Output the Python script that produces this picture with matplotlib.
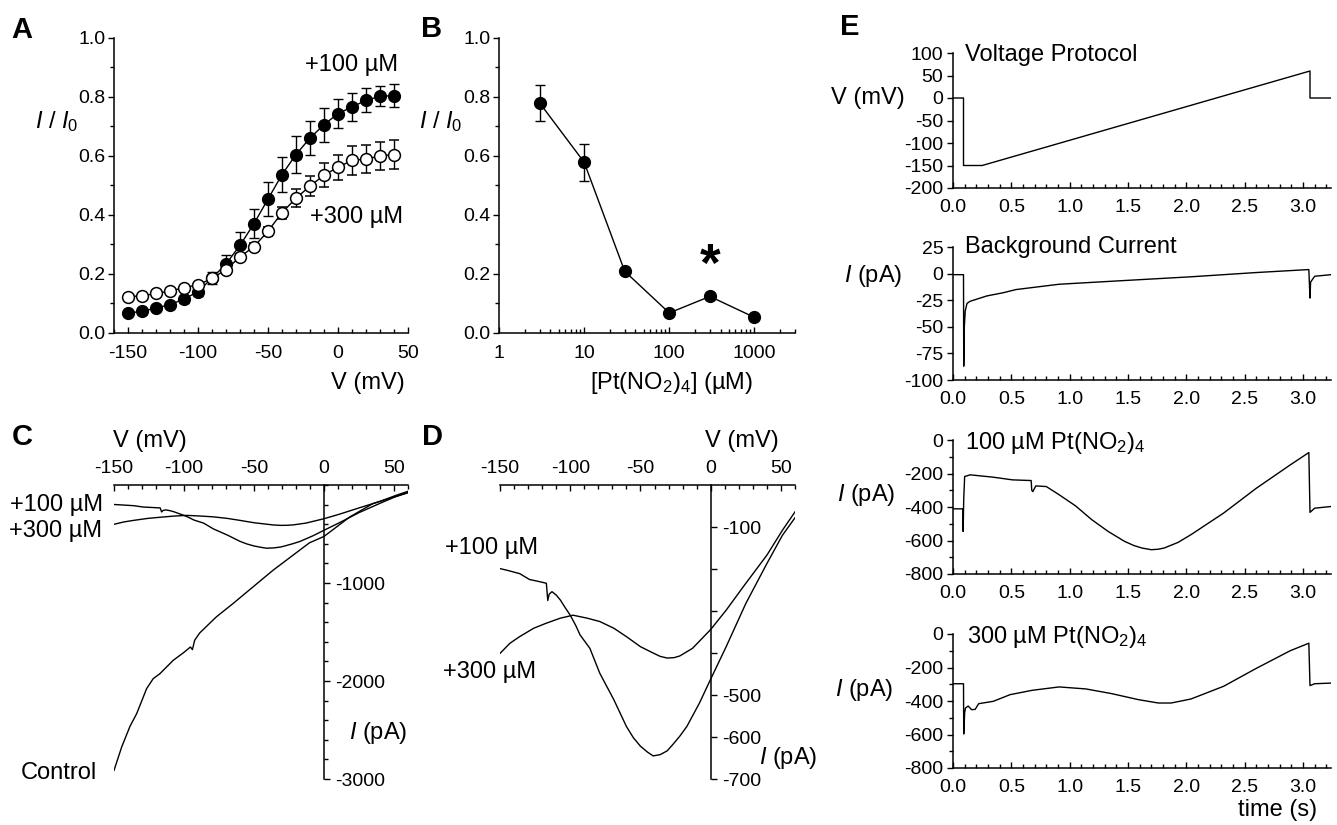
import matplotlib
matplotlib.use('Agg')
import matplotlib.pyplot as plt
from matplotlib.ticker import MultipleLocator, FixedLocator, FixedFormatter, LogLocator, NullFormatter, FormatStrFormatter

plt.rcParams['font.family'] = ['Liberation Sans', 'DejaVu Sans']
plt.rcParams['mathtext.fontset'] = 'custom'
plt.rcParams['mathtext.rm'] = 'Liberation Sans'
plt.rcParams['mathtext.it'] = 'Liberation Sans:italic'
plt.rcParams['mathtext.bf'] = 'Liberation Sans:bold'
plt.rcParams['axes.unicode_minus'] = False

# ---------------- data ----------------
V_A = [-150, -140, -130, -120, -110, -100, -90, -80, -70, -60, -50, -40, -30, -20, -10, 0, 10, 20, 30, 40]
A_100 = [0.068, 0.073, 0.085, 0.096, 0.115, 0.140, 0.186, 0.234, 0.297, 0.371, 0.454, 0.537, 0.605, 0.661, 0.706, 0.744, 0.766, 0.789, 0.802, 0.805]
A_100_err = [0.008, 0.008, 0.008, 0.010, 0.012, 0.015, 0.020, 0.030, 0.045, 0.050, 0.057, 0.060, 0.062, 0.057, 0.057, 0.050, 0.048, 0.040, 0.034, 0.040]
A_300 = [0.123, 0.126, 0.134, 0.142, 0.154, 0.163, 0.185, 0.215, 0.258, 0.293, 0.345, 0.408, 0.457, 0.498, 0.535, 0.562, 0.585, 0.590, 0.600, 0.605]
A_300_err = [0.005, 0.005, 0.005, 0.006, 0.006, 0.007, 0.010, 0.010, 0.010, 0.012, 0.015, 0.020, 0.030, 0.034, 0.040, 0.043, 0.048, 0.048, 0.047, 0.050]

B_conc = [3, 10, 30, 100, 300, 1000]
B_val = [0.78, 0.579, 0.209, 0.068, 0.124, 0.053]
B_err = [0.06, 0.063, 0.0, 0.0, 0.0, 0.0]

V_ctrl = [-150, -144.5, -138.6, -133.8, -126.7, -122, -117.2, -107.7, -100.6, -95.4, -94, -92.4, -88.8, -77, -65.1, -50.8, -36.5, -22.3, -10.4, 0, 18.3, 34.9, 60]
I_ctrl = [-2912, -2673, -2463, -2333, -2078, -1976, -1925, -1789, -1714, -1653, -1680, -1585, -1510, -1347, -1211, -1041, -871, -718, -590, -525, -327, -190, -78]

V_100 = [-150, -145, -136, -129, -122, -117, -116, -115, -113, -110, -107, -104, -100, -96, -93, -86, -79, -69, -60, -55, -50, -45, -41, -36, -31, -27, -22, -17, -8, 0, 11, 25, 40, 51, 60]
I_100 = [-199, -203, -211, -225, -230, -234, -275, -260, -254, -262, -274, -290, -310, -335, -357, -389, -448, -511, -575, -602, -622, -636, -645, -642, -633, -618, -598, -575, -519, -462, -385, -282, -187, -120, -78]

V_300 = [-150, -143, -136, -126, -117, -107, -98, -88, -79, -69, -60, -50, -41, -36, -31, -26, -22, -13, 0, 11, 25, 40, 51, 60]
I_300 = [-401, -377, -361, -341, -329, -317, -310, -317, -325, -341, -361, -385, -400, -408, -412, -411, -407, -389, -344, -298, -234, -167, -108, -64]

t_prot = [0, 0.09, 0.09, 0.25, 3.06, 3.06, 3.24]
V_prot = [0, 0, -150, -150, 60, 0, 0]

t_bg = [0, 0.09, 0.092, 0.097, 0.105, 0.12, 0.147, 0.29, 0.43, 0.54, 0.91, 1.39, 2.04, 2.32, 2.6, 3.05, 3.06, 3.065, 3.1, 3.24]
I_bg = [-1, -1, -87, -50, -35, -28, -26, -21, -18, -15, -10, -7, -3, -1, 1, 3.8, -23, -8, -2.5, -1]

t_100 = [0, 0.085, 0.087, 0.092, 0.10, 0.147, 0.345, 0.51, 0.67, 0.675, 0.684, 0.71, 0.8, 0.91, 1.05, 1.19, 1.33, 1.47, 1.55, 1.62, 1.70, 1.76, 1.81, 1.93, 2.04, 2.32, 2.6, 2.89, 3.05, 3.06, 3.1, 3.24]
I_100t = [-411, -411, -546, -350, -218, -208, -222, -238, -242, -300, -308, -274, -278, -327, -393, -476, -546, -605, -630, -645, -655, -652, -645, -611, -565, -436, -288, -149, -75, -432, -407, -397]

t_300 = [0, 0.09, 0.092, 0.10, 0.107, 0.13, 0.16, 0.19, 0.22, 0.345, 0.49, 0.68, 0.91, 1.14, 1.36, 1.59, 1.76, 1.87, 2.04, 2.32, 2.6, 2.89, 3.05, 3.06, 3.1, 3.24]
I_300t = [-297, -297, -597, -470, -442, -430, -452, -450, -416, -402, -362, -336, -316, -328, -356, -392, -412, -412, -388, -312, -205, -100, -55, -308, -297, -293]

# ---------------- layout helpers ----------------
W, H = 1337, 825
fig = plt.figure(figsize=(W / 100, H / 100), dpi=100)


def rect(l, t, r, b):
    return [l / W, 1 - b / H, (r - l) / W, (b - t) / H]


def ftext(x, y, s, **kw):
    kw.setdefault('fontsize', 17)
    fig.text(x / W, 1 - y / H, s, **kw)


TL = 14   # tick label size
LW = 1.0


def style_lb(ax, xpad=9, ypad=2):
    for s in ['top', 'right']:
        ax.spines[s].set_visible(False)
    for s in ['left', 'bottom']:
        ax.spines[s].set_linewidth(1.1)
    ax.tick_params(axis='x', which='both', direction='in', pad=xpad, labelsize=TL, width=1)
    ax.tick_params(axis='y', which='both', direction='out', pad=ypad, labelsize=TL, width=1)
    ax.tick_params(which='major', length=4)
    ax.tick_params(which='minor', length=3)

# ---------------- Panel A ----------------
axA = fig.add_axes(rect(114, 38, 408, 333))
axA.errorbar(V_A, A_100, yerr=A_100_err, fmt='-o', color='k', mfc='k', mec='k', ms=8.5, lw=LW,
             elinewidth=1, capsize=3.5, capthick=1, clip_on=False, zorder=3)
axA.errorbar(V_A, A_300, yerr=A_300_err, fmt='-o', color='k', mfc='white', mec='k', mew=1.1, ms=8.5, lw=LW,
             elinewidth=1, capsize=3.5, capthick=1, clip_on=False, zorder=4)
axA.set_xlim(-160, 50)
axA.set_ylim(0, 1)
axA.xaxis.set_major_locator(FixedLocator([-150, -100, -50, 0, 50]))
axA.xaxis.set_minor_locator(MultipleLocator(10))
axA.yaxis.set_major_locator(MultipleLocator(0.2))
axA.yaxis.set_minor_locator(MultipleLocator(0.1))
axA.yaxis.set_major_formatter(FormatStrFormatter('%.1f'))
style_lb(axA)

ftext(57, 122, r'$I$ / $I_{\mathrm{0}}$', ha='center', va='center')
ftext(398, 65, '+100 µM', ha='right', va='center')
ftext(403, 217, '+300 µM', ha='right', va='center')
ftext(405, 383, 'V (mV)', ha='right', va='center')
ftext(22, 30, 'A', ha='center', va='center', fontsize=21, fontweight='bold')

# ---------------- Panel B ----------------
axB = fig.add_axes(rect(499, 38, 795, 333))
axB.errorbar(B_conc, B_val, yerr=B_err, fmt='-o', color='k', mfc='k', mec='k', ms=8.5, lw=LW,
             elinewidth=1, capsize=3.5, capthick=1, clip_on=False, zorder=3)
axB.set_xscale('log')
axB.set_xlim(1, 3000)
axB.set_ylim(0, 1)
axB.xaxis.set_major_locator(FixedLocator([1, 10, 100, 1000]))
axB.xaxis.set_major_formatter(FixedFormatter(['1', '10', '100', '1000']))
axB.xaxis.set_minor_locator(LogLocator(base=10, subs=range(2, 10), numticks=20))
axB.xaxis.set_minor_formatter(NullFormatter())
axB.yaxis.set_major_locator(MultipleLocator(0.2))
axB.yaxis.set_minor_locator(MultipleLocator(0.1))
axB.yaxis.set_major_formatter(FormatStrFormatter('%.1f'))
style_lb(axB)
axB.text(300, 0.225, '*', ha='center', va='center', fontsize=38, fontweight='bold')

ftext(441, 122, r'$I$ / $I_{\mathrm{0}}$', ha='center', va='center')
ftext(671, 383, r'[Pt(NO$_{\mathrm{2}}$)$_{\mathrm{4}}$] (µM)', ha='center', va='center')
ftext(432, 29, 'B', ha='center', va='center', fontsize=21, fontweight='bold')

# ---------------- Panels C, D (IV, origin-centred axes) ----------------
def style_iv(ax, ylim, yticks, ylabels, yminor=None):
    ax.set_xlim(-150, 60)
    ax.set_ylim(*ylim)
    ax.spines['left'].set_visible(False)
    ax.spines['bottom'].set_visible(False)
    ax.spines['top'].set_linewidth(1.1)
    ax.spines['right'].set_linewidth(1.1)
    ax.spines['right'].set_position(('data', 0))
    ax.xaxis.tick_top()
    ax.yaxis.tick_right()
    ax.xaxis.set_major_locator(FixedLocator([-150, -100, -50, 0, 50]))
    ax.xaxis.set_minor_locator(MultipleLocator(10))
    ax.yaxis.set_major_locator(FixedLocator(yticks))
    ax.yaxis.set_major_formatter(FixedFormatter(ylabels))
    if yminor:
        ax.yaxis.set_minor_locator(MultipleLocator(yminor))
    ax.tick_params(axis='x', which='both', direction='in', pad=6, labelsize=TL, width=1)
    ax.tick_params(axis='y', which='both', direction='out', pad=4, labelsize=TL, width=1)
    ax.tick_params(which='major', length=4)
    ax.tick_params(which='minor', length=3)


axC = fig.add_axes(rect(114, 485, 408, 779))
axC.plot(V_ctrl, I_ctrl, color='k', lw=LW)
axC.plot(V_100, I_100, color='k', lw=LW)
axC.plot(V_300, I_300, color='k', lw=LW)
style_iv(axC, (-3000, 0), [-1000, -2000, -3000], ['-1000', '-2000', '-3000'], yminor=200)

ftext(113, 441, 'V (mV)', ha='left', va='center')
ftext(103, 505, '+100 µM', ha='right', va='center')
ftext(102, 531, '+300 µM', ha='right', va='center')
ftext(97, 773, 'Control', ha='right', va='center')
ftext(407, 733, r'$I$ (pA)', ha='right', va='center')
ftext(22, 437, 'C', ha='center', va='center', fontsize=21, fontweight='bold')

axD = fig.add_axes(rect(500, 485, 795, 779))
axD.plot(V_100, I_100, color='k', lw=LW)
axD.plot(V_300, I_300, color='k', lw=LW)
style_iv(axD, (-700, 0), [-100, -200, -300, -400, -500, -600, -700],
         ['-100', '', '', '', '-500', '-600', '-700'])

ftext(705, 441, 'V (mV)', ha='left', va='center')
ftext(445, 548, '+100 µM', ha='left', va='center')
ftext(443, 672, '+300 µM', ha='left', va='center')
ftext(817, 758, r'$I$ (pA)', ha='right', va='center')
ftext(432, 437, 'D', ha='center', va='center', fontsize=21, fontweight='bold')

# ---------------- Panel E ----------------
def style_e(ax, ylim, major, minor=None):
    ax.set_xlim(0, 3.24)
    ax.set_ylim(*ylim)
    ax.xaxis.set_major_locator(MultipleLocator(0.5))
    ax.xaxis.set_minor_locator(MultipleLocator(0.1))
    ax.xaxis.set_major_formatter(FormatStrFormatter('%.1f'))
    ax.yaxis.set_major_locator(MultipleLocator(major))
    if minor:
        ax.yaxis.set_minor_locator(MultipleLocator(minor))
    style_lb(ax, xpad=8, ypad=3)


axE1 = fig.add_axes(rect(953, 53, 1331, 188))
axE1.plot(t_prot, V_prot, color='k', lw=LW)
style_e(axE1, (-200, 100), 50)
ftext(965, 55, 'Voltage Protocol', ha='left', va='center')
ftext(905, 98, 'V (mV)', ha='right', va='center')

axE2 = fig.add_axes(rect(953, 247, 1331, 380))
axE2.plot(t_bg, I_bg, color='k', lw=LW)
style_e(axE2, (-100, 25), 25)
ftext(965, 247, 'Background Current', ha='left', va='center')
ftext(902, 276, r'$I$ (pA)', ha='right', va='center')

axE3 = fig.add_axes(rect(953, 440, 1331, 574))
axE3.plot(t_100, I_100t, color='k', lw=LW)
style_e(axE3, (-800, 0), 200, 100)
ftext(965, 443, r'100 µM Pt(NO$_{\mathrm{2}}$)$_{\mathrm{4}}$', ha='left', va='center')
ftext(895, 495, r'$I$ (pA)', ha='right', va='center')

axE4 = fig.add_axes(rect(953, 634, 1331, 768))
axE4.plot(t_300, I_300t, color='k', lw=LW)
style_e(axE4, (-800, 0), 200, 100)
ftext(967, 637, r'300 µM Pt(NO$_{\mathrm{2}}$)$_{\mathrm{4}}$', ha='left', va='center')
ftext(893, 690, r'$I$ (pA)', ha='right', va='center')
ftext(1317, 810, 'time (s)', ha='right', va='center')

ftext(850, 27, 'E', ha='center', va='center', fontsize=21, fontweight='bold')

fig.savefig('out.png', dpi=100)
